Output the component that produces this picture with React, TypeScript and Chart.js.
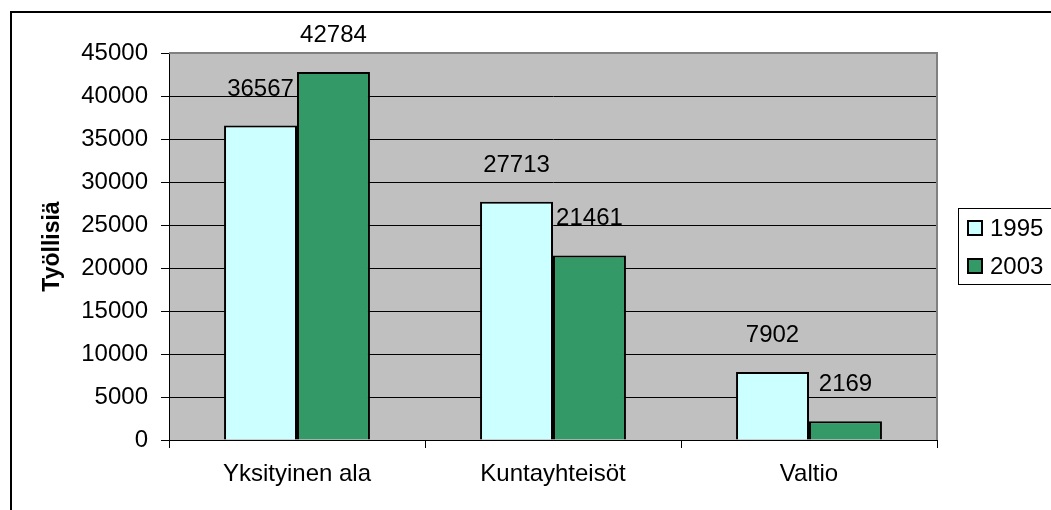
import React, { useEffect, useRef } from "react";
import { Chart, registerables } from "chart.js";

Chart.register(...registerables);

const categories = ["Yksityinen ala", "Kuntayhteisöt", "Valtio"];
const seriesNames = ["1995", "2003"];
const values1995 = [36567, 27713, 7902];
const values2003 = [42784, 21461, 2169];
const yTicks = [0, 5000, 10000, 15000, 20000, 25000, 30000, 35000, 40000, 45000];
const yTitle = "Työllisiä";

const FONT = "'Liberation Sans', Arial, sans-serif";
const colors = ["#CCFFFF", "#339966"];

const decorPlugin = {
  id: "decor",
  beforeDraw(chart: any) {
    const { ctx, chartArea } = chart;
    ctx.save();
    ctx.fillStyle = "#ffffff";
    ctx.fillRect(0, 0, chart.width, chart.height);
    ctx.strokeStyle = "#000";
    ctx.lineWidth = 2;
    ctx.beginPath();
    ctx.moveTo(11, chart.height + 5);
    ctx.lineTo(11, 12);
    ctx.lineTo(chart.width + 5, 12);
    ctx.stroke();
    ctx.fillStyle = "#C0C0C0";
    ctx.fillRect(chartArea.left, chartArea.top, chartArea.right - chartArea.left, chartArea.bottom - chartArea.top);
    ctx.restore();
  },
  afterDatasetsDraw(chart: any) {
    const { ctx } = chart;
    ctx.save();
    ctx.font = `24px ${FONT}`;
    ctx.fillStyle = "#000";
    ctx.textAlign = "center";
    ctx.textBaseline = "alphabetic";
    chart.data.datasets.forEach((ds: any, i: number) => {
      const meta = chart.getDatasetMeta(i);
      meta.data.forEach((el: any, j: number) => {
        ctx.fillText(String(ds.data[j]), el.x, el.y - 30);
      });
    });
    ctx.restore();
  },
  afterDraw(chart: any) {
    const { ctx, chartArea } = chart;
    ctx.save();
    // plot border top/right
    ctx.strokeStyle = "#808080";
    ctx.lineWidth = 2;
    ctx.beginPath();
    ctx.moveTo(chartArea.left, chartArea.top);
    ctx.lineTo(chartArea.right, chartArea.top);
    ctx.lineTo(chartArea.right, chartArea.bottom);
    ctx.stroke();
    // legend
    ctx.strokeStyle = "#000";
    ctx.lineWidth = 1;
    ctx.strokeRect(958.5, 208.5, 200, 76);
    ctx.font = `24px ${FONT}`;
    ctx.textAlign = "left";
    ctx.textBaseline = "alphabetic";
    chart.data.datasets.forEach((ds: any, i: number) => {
      const y = 221 + i * 38;
      ctx.fillStyle = ds.backgroundColor;
      ctx.fillRect(968, y, 14, 14);
      ctx.lineWidth = 2;
      ctx.strokeStyle = "#000";
      ctx.strokeRect(968, y, 14, 14);
      ctx.fillStyle = "#000";
      ctx.fillText(ds.label, 990, y + 15);
    });
    ctx.restore();
  },
};

export default function App() {
  const ref = useRef<HTMLCanvasElement>(null);
  useEffect(() => {
    if (!ref.current) return;
    const chart = new Chart(ref.current, {
      type: "bar",
      data: {
        labels: categories,
        datasets: [
          {
            label: seriesNames[0],
            data: values1995,
            backgroundColor: colors[0],
            borderColor: "#000",
            borderWidth: 2,
            categoryPercentage: 0.57,
            barPercentage: 1,
          },
          {
            label: seriesNames[1],
            data: values2003,
            backgroundColor: colors[1],
            borderColor: "#000",
            borderWidth: 2,
            categoryPercentage: 0.57,
            barPercentage: 1,
          },
        ],
      },
      options: {
        responsive: false,
        animation: false,
        devicePixelRatio: 1,
        layout: { padding: { left: 11, top: 53, right: 114, bottom: 0 } },
        plugins: { legend: { display: false }, tooltip: { enabled: false } },
        scales: {
          x: {
            grid: { drawOnChartArea: false, drawTicks: true, tickLength: 8, color: "#000", offset: true },
            border: { color: "#000", width: 1 },
            ticks: { color: "#000", font: { family: FONT, size: 24 }, padding: 12 },
            afterFit: (s: any) => { s.height = 70; },
          },
          y: {
            min: 0,
            max: 45000,
            afterBuildTicks: (s: any) => { s.ticks = yTicks.map((v) => ({ value: v })); },
            grid: { color: "#000", lineWidth: 1, tickLength: 8, drawTicks: true },
            border: { color: "#000", width: 1 },
            ticks: { color: "#000", font: { family: FONT, size: 24 }, padding: 13, callback: (v: any) => String(v) },
            title: { display: true, text: yTitle, color: "#000", font: { family: FONT, size: 23, weight: "bold" }, padding: { top: 28, bottom: 0 } },
            afterFit: (s: any) => { s.width = 158; },
          },
        },
      },
      plugins: [decorPlugin],
    });
    return () => chart.destroy();
  }, []);
  return (
    <div style={{ position: "fixed", left: 0, top: 0, width: 1051, height: 510 }}>
      <canvas ref={ref} width={1051} height={510} style={{ display: "block" }} />
    </div>
  );
}
